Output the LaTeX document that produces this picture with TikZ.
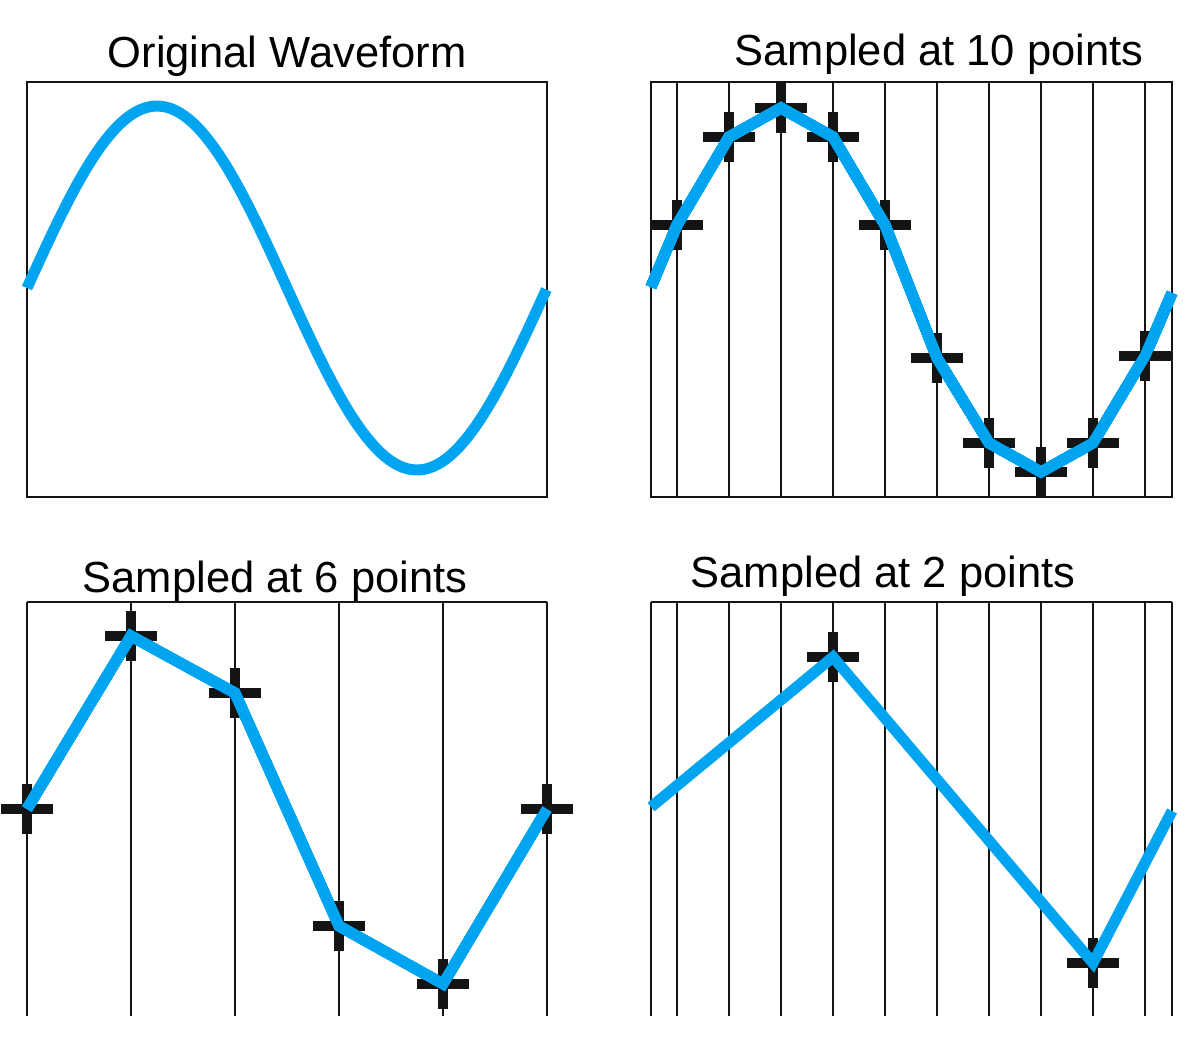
\documentclass[tikz,border=0pt]{standalone}
\usepackage{fontspec}
\setmainfont{Liberation Sans}
\definecolor{wave_blue}{RGB}{0,164,240}
\definecolor{grid_black}{RGB}{20,20,20}
\tikzset{
  wave/.style={wave_blue, line width=11pt, line join=miter, line cap=butt},
  gridline/.style={grid_black, line width=2.2pt},
  samplemark/.style={grid_black, line width=10.5pt, line cap=butt},
  title/.style={font=\fontsize{43.5}{52}\selectfont, anchor=base, inner sep=0pt},
}
% cross at a sample point
\newcommand{\samplecross}[2]{\draw[samplemark] (#1,#2) +(-26,0) -- +(26,0) +(0,-25) -- +(0,25);}

\begin{document}
\begin{tikzpicture}[x=1pt,y=-1pt]
	\useasboundingbox (0,0) rectangle (1200,1050);

	% original waveform
	\begin{scope}
	\node[title] (orig) at (287,67) {Original Waveform};
	\draw[gridline] (27,82) rectangle (547,497);
	\draw[wave] plot [domain=0:1, samples=120, variable=\t] ({27+520*\t}, {288-182*sin(360*\t)});
	\end{scope}

	% 10 samples
	\begin{scope}
	\node[title] (ten) at (939,65) {Sampled at 10 points};
	\draw[gridline] (651,82) rectangle (1172,497);
	\foreach\k in {0,...,9}
	    \draw[gridline] ({677+52*\k},82) -- ({677+52*\k},497);
	\foreach\x/\y in {677/225, 729/137, 781/108, 833/137, 885/225,
	                  937/358, 989/443, 1041/472, 1093/443, 1145/356}
	    \samplecross{\x}{\y}
	\draw[wave] (651,287) -- (677,225) -- (729,137) -- (781,108) -- (833,137)
	    -- (885,225) -- (937,358) -- (989,443) -- (1041,472) -- (1093,443)
	    -- (1145,356) -- (1172,293);
	\end{scope}

	% 6 samples
	\begin{scope}
	\node[title] (six) at (275,592) {Sampled at 6 points};
	\draw[gridline] (27,602) -- (547,602);
	\foreach\k in {0,...,5}
	    \draw[gridline] ({27+104*\k},602) -- ({27+104*\k},1016);
	\foreach\x/\y in {27/809, 131/636, 235/693, 339/926, 443/984, 547/809}
	    \samplecross{\x}{\y}
	\draw[wave] (27,809) -- (131,636) -- (235,693) -- (339,926) -- (443,984) -- (547,809);
	\end{scope}

	% 2 samples
	\begin{scope}
	\node[title] (two) at (883,587) {Sampled at 2 points};
	\draw[gridline] (651,602) -- (1172,602);
	\draw[gridline] (651,602) -- (651,1016);
	\draw[gridline] (1172,602) -- (1172,1016);
	\foreach\k in {0,...,9}
	    \draw[gridline] ({677+52*\k},602) -- ({677+52*\k},1016);
	\samplecross{833}{657}
	\samplecross{1093}{963}
	\draw[wave] (651,807) -- (833,657) -- (1093,963) -- (1172,811);
	\end{scope}

\end{tikzpicture}
\end{document}
